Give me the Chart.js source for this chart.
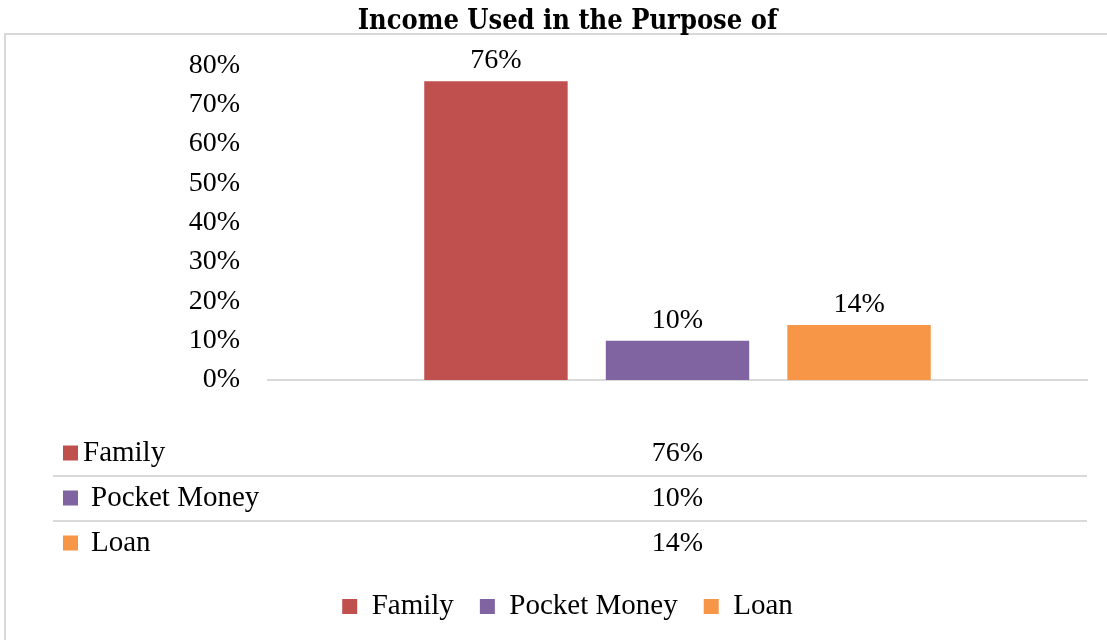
<!DOCTYPE html>
<html>
<head>
<meta charset="utf-8">
<script src="https://cdn.jsdelivr.net/npm/chart.js@4"></script>
<style>
  html, body { margin: 0; padding: 0; background: #fff; }
</style>
</head>
<body>
<canvas id="myChart" width="1107" height="640"></canvas>
<script>
var chartTitle = "Income Used in the Purpose of";
var categories = [""];
var seriesNames = ["Family", "Pocket Money", "Loan"];
var seriesValues = [76, 10, 14];
var seriesColors = ["#c0504d", "#8064a2", "#f79646"];
var yMin = 0, yMax = 80, yStep = 10;

var serif = "'Liberation Serif', 'Times New Roman', serif";
var gridGrey = "#d9d9d9";

// frame around the chart
var framePlugin = {
  id: "frame",
  beforeDraw: function (chart) {
    var ctx = chart.ctx;
    ctx.save();
    ctx.fillStyle = "#fff";
    ctx.fillRect(0, 0, chart.width, chart.height);
    ctx.strokeStyle = gridGrey;
    ctx.lineWidth = 2;
    ctx.strokeRect(5, 34, chart.width + 20, chart.height + 20);
    ctx.restore();
  }
};

// value labels on top of the bars
var valueLabels = {
  id: "valueLabels",
  afterDatasetsDraw: function (chart) {
    var ctx = chart.ctx;
    ctx.save();
    ctx.font = "28px " + serif;
    ctx.fillStyle = "#000";
    ctx.textAlign = "center";
    ctx.textBaseline = "alphabetic";
    chart.data.datasets.forEach(function (ds, i) {
      var bar = chart.getDatasetMeta(i).data[0];
      ctx.fillText(ds.data[0] + "%", bar.x, bar.y - 13);
    });
    ctx.restore();
  }
};

// data table under the axis
var dataTable = {
  id: "dataTable",
  afterDraw: function (chart) {
    var ctx = chart.ctx;
    var area = chart.chartArea;
    var xScale = chart.scales.x;
    var rowTop = area.bottom + 51;
    var rowH = 45;
    ctx.save();
    ctx.textBaseline = "middle";
    chart.data.datasets.forEach(function (ds, i) {
      var cy = rowTop + rowH * i + rowH / 2;
      ctx.fillStyle = ds.backgroundColor;
      ctx.fillRect(63, cy - 8, 15, 15);
      ctx.fillStyle = "#000";
      ctx.textAlign = "left";
      ctx.font = "29px " + serif;
      ctx.fillText(ds.label, i === 0 ? 83 : 91, cy);
      ctx.textAlign = "center";
      ctx.font = "28px " + serif;
      ctx.fillText(ds.data[0] + "%", xScale.getPixelForValue(0), cy);
      if (i < chart.data.datasets.length - 1) {
        ctx.strokeStyle = gridGrey;
        ctx.lineWidth = 2;
        ctx.beginPath();
        ctx.moveTo(53, rowTop + rowH * (i + 1));
        ctx.lineTo(area.right, rowTop + rowH * (i + 1));
        ctx.stroke();
      }
    });
    ctx.restore();
  }
};

var datasets = seriesNames.map(function (name, i) {
  return {
    label: name,
    data: [seriesValues[i]],
    backgroundColor: seriesColors[i],
    borderWidth: 0,
    categoryPercentage: 0.665,
    barPercentage: 0.79
  };
});

var ctx = document.getElementById("myChart");
var myChart = new Chart(ctx, {
  type: "bar",
  data: {
    labels: categories,
    datasets: datasets
  },
  options: {
    responsive: false,
    animation: false,
    layout: {
      padding: { left: 48, right: 20, top: 0, bottom: 9 }
    },
    plugins: {
      title: {
        display: true,
        text: chartTitle,
        color: "#000",
        font: { family: "'DejaVu Serif Condensed', 'DejaVu Serif', serif", size: 27, weight: "bold" },
        padding: { top: 6, bottom: 27 }
      },
      legend: {
        position: "bottom",
        labels: {
          color: "#000",
          font: { family: serif, size: 29 },
          boxWidth: 15,
          boxHeight: 15,
          padding: 26
        }
      },
      tooltip: { enabled: false }
    },
    scales: {
      x: {
        grid: { display: false },
        border: { display: true, color: gridGrey, width: 2 },
        ticks: { display: false },
        afterFit: function (scale) {
          scale.height = 186;
        }
      },
      y: {
        min: yMin,
        max: yMax,
        grid: { display: false, drawTicks: false },
        border: { display: false },
        ticks: {
          stepSize: yStep,
          padding: 28,
          color: "#000",
          font: { family: serif, size: 28 },
          callback: function (v) { return v + "%"; }
        },
        afterFit: function (scale) {
          scale.width = 220;
        }
      }
    }
  },
  plugins: [framePlugin, valueLabels, dataTable]
});
</script>
</body>
</html>
